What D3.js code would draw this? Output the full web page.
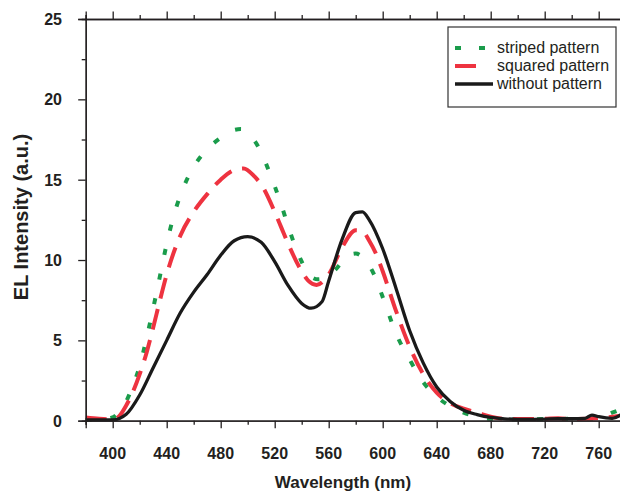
<!DOCTYPE html>
<html>
<head>
<meta charset="utf-8">
<script src="https://cdn.jsdelivr.net/npm/d3@7"></script>
<style>
	body { margin: 0; background: #fff; }
	text { font-family: "Liberation Sans", Arial, sans-serif; fill: #231f20; }
</style>
</head>
<body>
<div id="chart"></div>
<script>
// EL spectra
var blackWl = [380, 390, 400, 410, 420, 430, 440, 450, 460, 470, 480, 490, 500, 510, 520, 530, 540, 547, 555, 560, 570, 580, 585, 590, 600, 610, 620, 630, 640, 650, 660, 670, 680, 690, 700, 710, 720, 730, 740, 750, 755, 760, 770, 780];
var blackVal = [0.05, 0.05, 0.05, 0.4, 1.6, 3.3, 5.0, 6.7, 8.0, 9.1, 10.3, 11.2, 11.45, 11.1, 9.9, 8.4, 7.3, 7.0, 7.4, 8.7, 11.3, 12.95, 13.0, 12.5, 10.7, 8.2, 5.6, 3.6, 2.1, 1.2, 0.65, 0.38, 0.2, 0.12, 0.08, 0.08, 0.1, 0.12, 0.12, 0.15, 0.35, 0.25, 0.15, 0.6];

var redWl = [380, 390, 400, 405, 410, 415, 420, 425, 430, 435, 440, 450, 460, 470, 480, 490, 497, 505, 510, 520, 525, 530, 540, 545, 551, 560, 570, 580, 585, 590, 595, 600, 610, 620, 630, 640, 650, 660, 670, 680, 690, 700, 720, 730, 740, 760, 775];
var redVal = [0.2, 0.12, 0.08, 0.3, 0.95, 1.8, 2.9, 4.2, 5.8, 7.5, 9.1, 11.5, 13.0, 14.1, 15.0, 15.6, 15.7, 15.2, 14.7, 13.0, 12.0, 11.0, 9.3, 8.7, 8.45, 9.1, 10.8, 11.85, 11.8, 11.2, 10.4, 9.3, 6.8, 4.6, 2.9, 1.75, 1.1, 0.75, 0.5, 0.25, 0.12, 0.1, 0.12, 0.15, 0.1, 0.15, 0.3];

var greenWl = [380, 390, 400, 405, 410, 415, 420, 425, 430, 435, 440, 445, 450, 460, 470, 480, 490, 495, 500, 510, 515, 520, 525, 530, 535, 540, 545, 552, 560, 565, 570, 575, 580, 587, 593, 600, 610, 620, 630, 640, 650, 660, 670, 680, 700, 720, 740, 760, 770, 780];
var greenVal = [0.05, 0.05, 0.2, 0.6, 1.2, 2.2, 3.4, 5.1, 7.0, 9.0, 11.0, 12.7, 14.0, 15.8, 16.9, 17.6, 18.1, 18.15, 17.9, 16.7, 15.7, 14.6, 13.4, 12.1, 10.9, 9.9, 9.1, 8.8, 9.0, 9.4, 9.9, 10.3, 10.4, 10.0, 9.2, 7.7, 5.4, 3.8, 2.4, 1.5, 0.9, 0.5, 0.25, 0.12, 0.08, 0.1, 0.12, 0.15, 0.5, 0.8];

var seriesNames = ["striped pattern", "squared pattern", "without pattern"];
var xMajor = [400, 440, 480, 520, 560, 600, 640, 680, 720, 760];
var xMinor = [380, 420, 460, 500, 540, 580, 620, 660, 700, 740, 780];
var yMajor = [0, 5, 10, 15, 20, 25];
var yMinor = [2.5, 7.5, 12.5, 17.5, 22.5];

var width = 620, height = 493;
var mLeft = 85.7, mRight = 625.7, mTop = 19, mBottom = 420.7;

var x = d3.scaleLinear().domain([380, 780]).range([mLeft, mRight]);
var y = d3.scaleLinear().domain([0, 25]).range([mBottom, mTop]);

var svg = d3.select("#chart").append("svg")
	.attr("width", width)
	.attr("height", height);

function pairs(wl, val) {
	return wl.map(function(w, i) { return [w, val[i]]; });
}

var line = d3.line()
	.x(function(d) { return x(d[0]); })
	.y(function(d) { return y(d[1]); })
	.curve(d3.curveMonotoneX);

// curves first, axes drawn on top
var series = [
	{ data: pairs(greenWl, greenVal), color: "#1a9c4b", width: 4, dash: "6,19" },
	{ data: pairs(redWl, redVal), color: "#ee3340", width: 4, dash: "21,11" },
	{ data: pairs(blackWl, blackVal), color: "#1a1a1a", width: 3.3, dash: null }
];

svg.selectAll(".curve")
	.data(series)
	.enter()
	.append("path")
		.attr("class", "curve")
		.attr("d", function(d) { return line(d.data); })
		.style("fill", "none")
		.style("stroke", function(d) { return d.color; })
		.style("stroke-width", function(d) { return d.width; })
		.style("stroke-dasharray", function(d) { return d.dash; })
		.style("stroke-linejoin", "round");

// axes
var bottomAxis = d3.axisBottom(x).tickValues(xMajor).tickSize(7.5).tickFormat("");
var bottomMinor = d3.axisBottom(x).tickValues(xMinor).tickSize(4).tickFormat("");
var topAxis = d3.axisTop(x).tickValues(xMajor).tickSize(7.5).tickFormat("");
var topMinor = d3.axisTop(x).tickValues(xMinor).tickSize(4).tickFormat("");
var leftAxis = d3.axisLeft(y).tickValues(yMajor).tickSize(7.5).tickFormat("");
var leftMinor = d3.axisLeft(y).tickValues(yMinor).tickSize(4).tickFormat("");

svg.append("g").attr("transform", "translate(0," + mBottom + ")").call(bottomAxis);
svg.append("g").attr("transform", "translate(0," + mBottom + ")").call(bottomMinor);
svg.append("g").attr("transform", "translate(0," + mTop + ")").call(topAxis);
svg.append("g").attr("transform", "translate(0," + mTop + ")").call(topMinor);
svg.append("g").attr("transform", "translate(" + mLeft + ",0)").call(leftAxis);
svg.append("g").attr("transform", "translate(" + mLeft + ",0)").call(leftMinor);

svg.selectAll(".domain").style("stroke", "#231f20").style("stroke-width", 1.3);
svg.selectAll(".tick line").style("stroke", "#231f20").style("stroke-width", 1.3);

// tick labels
svg.selectAll(".xlab")
	.data(xMajor)
	.enter()
	.append("text")
		.attr("class", "xlab")
		.attr("x", function(d) { return x(d); })
		.attr("y", 459)
		.style("text-anchor", "middle")
		.style("font-size", "16px")
		.style("font-weight", 700)
		.text(function(d) { return d; });

svg.selectAll(".ylab")
	.data(yMajor)
	.enter()
	.append("text")
		.attr("class", "ylab")
		.attr("x", 62)
		.attr("y", function(d) { return y(d) + 6; })
		.style("text-anchor", "end")
		.style("font-size", "16px")
		.style("font-weight", 700)
		.text(function(d) { return d; });

svg.append("text")
	.attr("x", 343)
	.attr("y", 488)
	.style("text-anchor", "middle")
	.style("font-size", "17px")
	.style("font-weight", 700)
	.text("Wavelength (nm)");

svg.append("text")
	.attr("transform", "translate(28,217) rotate(-90)")
	.style("text-anchor", "middle")
	.style("font-size", "20px")
	.style("font-weight", 700)
	.text("EL Intensity (a.u.)");

// legend
var lgX = 448, lgY = 27;
svg.append("rect")
	.attr("x", lgX).attr("y", lgY)
	.attr("width", 168).attr("height", 80)
	.style("fill", "#fff")
	.style("stroke", "#333")
	.style("stroke-width", 1.2);

var legendRows = svg.selectAll(".legendRow")
	.data(series)
	.enter()
	.append("g")
		.attr("class", "legendRow")
		.attr("transform", function(d, i) { return "translate(0," + (lgY + 21 + i * 18) + ")"; });

legendRows.append("line")
	.attr("x1", 455).attr("x2", function(d, i) { return i == 1 ? 476 : 493; })
	.attr("y1", 0).attr("y2", 0)
	.style("stroke", function(d) { return d.color; })
	.style("stroke-width", function(d) { return d.width; })
	.style("stroke-dasharray", function(d, i) { return i == 0 ? "6,18" : null; });

legendRows.append("text")
	.attr("x", 497)
	.attr("y", 5)
	.style("font-size", "16px")
	.text(function(d, i) { return seriesNames[i]; });
</script>
</body>
</html>
